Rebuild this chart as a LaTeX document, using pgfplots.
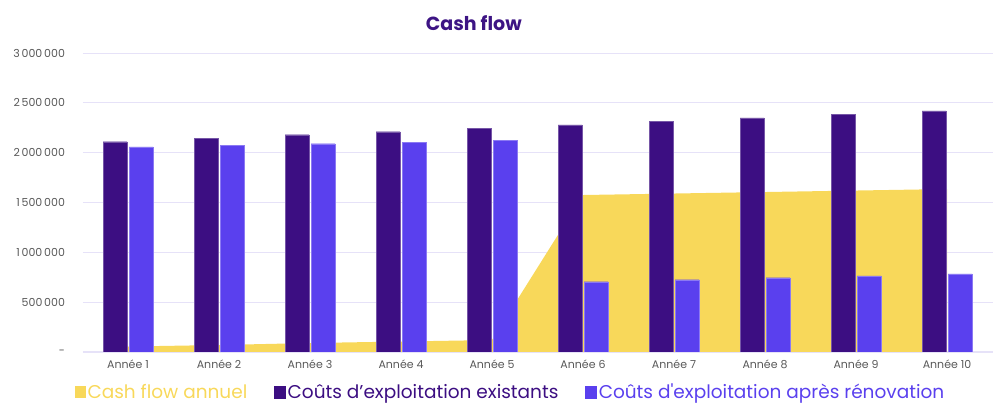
\documentclass[border=0pt]{standalone}
\usepackage{fontspec}
\setmainfont{Poppins}
\usepackage{pgfplots}
\pgfplotsset{compat=1.18}
\definecolor{cdark}{RGB}{60,14,130}
\definecolor{clight}{RGB}{90,64,238}
\definecolor{cyellow}{RGB}{248,216,90}
\definecolor{ctitle}{RGB}{61,20,132}
\definecolor{cgray}{RGB}{89,89,89}
\definecolor{cgrid}{RGB}{230,226,248}
\begin{document}
\begin{tikzpicture}[x=1pt,y=1pt]
\useasboundingbox (0,0) rectangle (995,403);
\begin{axis}[
  at={(82.5pt,51pt)}, anchor=south west,
  scale only axis, width=910pt, height=299pt,
  xmin=0.5, xmax=10.5, ymin=0, ymax=3000000,
  xtick={1,...,10},
  xticklabels={Année 1,Année 2,Année 3,Année 4,Année 5,Année 6,Année 7,Année 8,Année 9,Année 10},
  ytick={0,500000,1000000,1500000,2000000,2500000,3000000},
  yticklabels={-,500\,000,1\,000\,000,1\,500\,000,2\,000\,000,2\,500\,000,3\,000\,000},
  axis x line*=bottom, axis y line*=left,
  x axis line style={draw=cgrid, line width=1pt, -},
  y axis line style={draw=none},
  major tick length=0pt, tick style={draw=none},
  ymajorgrids, grid style={draw=cgrid, line width=0.8pt},
  tick label style={font=\fontsize{11}{12}\selectfont, text=cgray},
  yticklabel style={xshift=-14pt},
  xticklabel style={yshift=-4pt},
  scaled y ticks=false,
  title={Cash flow},
  title style={at={(0.430,1.08)}, anchor=center, font=\fontsize{19}{21}\selectfont\bfseries, text=ctitle},
  legend style={at={(-0.009,-0.133)}, anchor=west, draw=none, fill=none,
    font=\fontsize{18.5}{19}\selectfont, inner sep=0pt,
    /tikz/every even column/.append style={column sep=25pt}},
  legend columns=3, legend cell align=left,
]
\addplot[fill=cyellow, draw=none,
  legend image code/.code={\fill[cyellow] (0pt,-6pt) rectangle (11pt,6pt);}]
  coordinates {(1,55000) (2,70000) (3,90000) (4,105000) (5,120000)
               (6,1575000) (7,1590000) (8,1605000) (9,1620000) (10,1635000)} \closedcycle;
\addlegendentry{\textcolor{cyellow}{Cash flow annuel}}
\addplot[ybar, bar width=24pt, bar shift=-13pt, fill=cdark, draw=cdark!70!white, line width=0.3pt,
  legend image code/.code={\fill[cdark] (0pt,-6pt) rectangle (11pt,6pt);}]
  coordinates {(1,2110000) (2,2145000) (3,2180000) (4,2210000) (5,2245000)
               (6,2280000) (7,2315000) (8,2350000) (9,2385000) (10,2420000)};
\addlegendentry{\textcolor{cdark}{Coûts d’exploitation existants}}
\addplot[ybar, bar width=24pt, bar shift=13pt, fill=clight, draw=clight!70!white, line width=0.3pt,
  legend image code/.code={\fill[clight] (0pt,-6pt) rectangle (11pt,6pt);}]
  coordinates {(1,2058000) (2,2075000) (3,2090000) (4,2105000) (5,2125000)
               (6,705000) (7,725000) (8,745000) (9,765000) (10,785000)};
\addlegendentry{\textcolor{clight}{Coûts d\textquotesingle exploitation après rénovation}}
\end{axis}
\end{tikzpicture}
\end{document}
